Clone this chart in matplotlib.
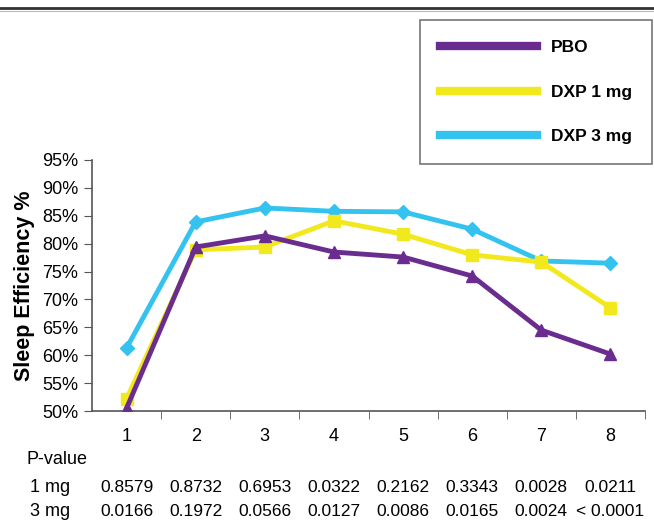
import matplotlib.pyplot as plt
from matplotlib.lines import Line2D

nights = [1, 2, 3, 4, 5, 6, 7, 8]
pbo = [50.5, 79.4, 81.4, 78.5, 77.6, 74.2, 64.5, 60.2]
dxp1 = [52.2, 78.9, 79.4, 84.1, 81.7, 78.0, 76.7, 68.5]
dxp3 = [61.3, 83.9, 86.4, 85.8, 85.7, 82.6, 76.9, 76.5]
p_1mg = ['0.8579', '0.8732', '0.6953', '0.0322', '0.2162', '0.3343', '0.0028', '0.0211']
p_3mg = ['0.0166', '0.1972', '0.0566', '0.0127', '0.0086', '0.0165', '0.0024', '< 0.0001']
y_ticks = [50, 55, 60, 65, 70, 75, 80, 85, 90, 95]

plt.rcParams['font.family'] = ['Liberation Sans', 'DejaVu Sans']

fig = plt.figure(figsize=(6.54, 5.23), dpi=100)
ax = fig.add_axes([92/654, 1 - 411/523, (645-92)/654, (411-160)/523])

c_pbo = '#6a2d8f'
c_1 = '#f2e81e'
c_3 = '#34c3ef'

ax.plot(nights, pbo, color=c_pbo, lw=3.5, marker='^', ms=8, label='PBO', zorder=3)
ax.plot(nights, dxp1, color=c_1, lw=3.5, marker='s', ms=8, label='DXP 1 mg', zorder=2)
ax.plot(nights, dxp3, color=c_3, lw=3.5, marker='D', ms=7, label='DXP 3 mg', zorder=1)

ax.set_xlim(0.5, 8.5)
ax.set_ylim(50, 95)
ax.set_yticks(y_ticks)
ax.set_yticklabels([f'{v}%' for v in y_ticks], fontsize=13)
ax.set_xticks(nights)
ax.set_xticklabels([str(n) for n in nights], fontsize=13)
ax.tick_params(axis='x', length=0, pad=12)
ax.set_xticks([1.5 + i for i in range(8)], minor=True)
ax.tick_params(axis='x', which='minor', length=6, direction='out', color='#555555')
ax.tick_params(axis='y', length=6, direction='out', color='#555555', pad=4)
for s in ['top', 'right']:
    ax.spines[s].set_visible(False)
for s in ['left', 'bottom']:
    ax.spines[s].set_color('#555555')
    ax.spines[s].set_linewidth(1.2)

ax.set_ylabel('Sleep Efficiency %', fontsize=15.5, fontweight='bold', labelpad=5)

# legend
handles = [Line2D([], [], color=c, lw=6) for c in (c_pbo, c_1, c_3)]
leg = fig.legend(handles, ['PBO', 'DXP 1 mg', 'DXP 3 mg'],
                 loc='upper right', bbox_to_anchor=(652/654, 1 - 20/523),
                 frameon=True, fancybox=False, edgecolor='#555555',
                 prop={'weight': 'bold', 'size': 12.5},
                 handlelength=5.6, labelspacing=1.7, borderpad=1.15, handletextpad=0.8,
                 borderaxespad=0)
leg.get_frame().set_linewidth(1.2)

# top rule
fig.add_artist(Line2D([0, 1], [1 - 8/523, 1 - 8/523], color='#333333', lw=2))
fig.add_artist(Line2D([0, 1], [1 - 10.5/523, 1 - 10.5/523], color='#bbbbbb', lw=0.8))

# p-value table
tf = ax.get_xaxis_transform()
fig.text(27/654, 1 - 459/523, 'P-value', fontsize=13, va='center', ha='left')
fig.text(30/654, 1 - 487/523, '1 mg', fontsize=13, va='center', ha='left')
fig.text(30/654, 1 - 511/523, '3 mg', fontsize=13, va='center', ha='left')
y1 = -(487 - 411) / (411 - 160)
y3 = -(511 - 411) / (411 - 160)
for x, a, b in zip(nights, p_1mg, p_3mg):
    ax.text(x, y1, a, transform=tf, ha='center', va='center', fontsize=12.5, clip_on=False)
    ax.text(x, y3, b, transform=tf, ha='center', va='center', fontsize=12.5, clip_on=False)

fig.savefig('out.png', dpi=100)
